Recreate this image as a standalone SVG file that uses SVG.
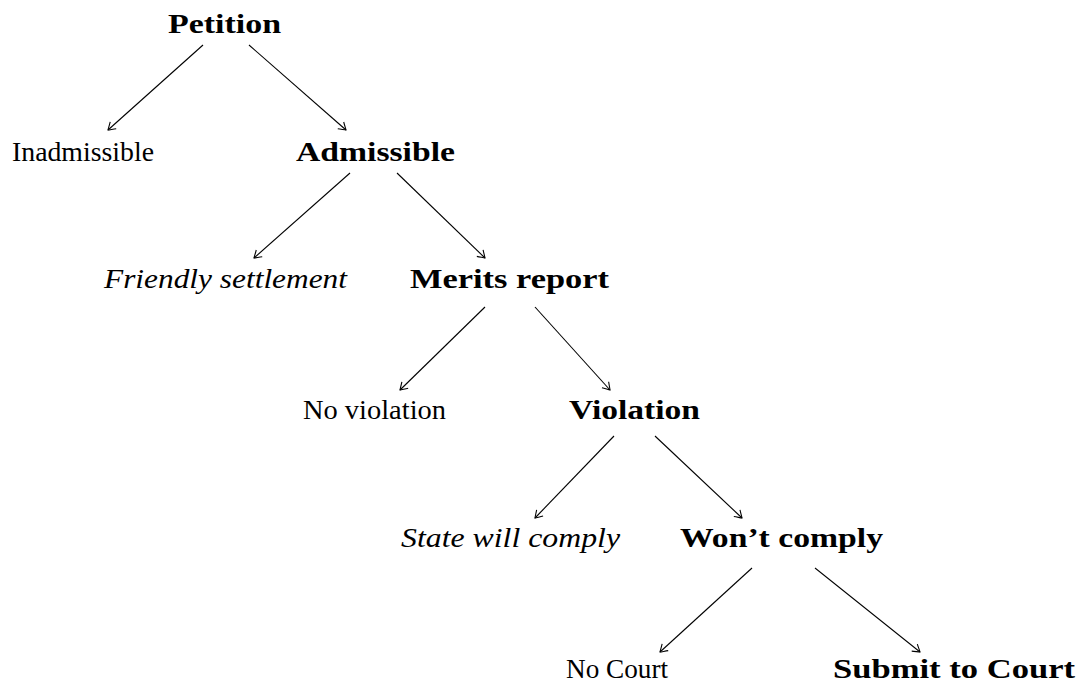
<svg xmlns="http://www.w3.org/2000/svg" width="1077" height="688" viewBox="0 0 1077 688">
<style>
text{font-family:"Liberation Serif","DejaVu Serif",serif;font-size:27px;fill:#000;text-anchor:middle}
.b{font-weight:bold}
.i{font-style:italic}
.e{fill:none;stroke:#000;stroke-width:1.1}
</style>
<defs>
<marker id="ar" viewBox="-10 -6 12 12" markerWidth="12" markerHeight="12" refX="0" refY="0" orient="auto" markerUnits="userSpaceOnUse">
<path d="M-7,-4.5 C-4,-2.5 -1,-0.8 0,0 C-1,0.8 -4,2.5 -7,4.5" fill="none" stroke="#000" stroke-width="1.1"/>
</marker>
</defs>
<g id="edges">
<line class="e" x1="203" y1="45" x2="108" y2="130" marker-end="url(#ar)"/>
<line class="e" x1="249" y1="45" x2="346" y2="130" marker-end="url(#ar)"/>
<line class="e" x1="350" y1="173" x2="254" y2="258" marker-end="url(#ar)"/>
<line class="e" x1="397" y1="173" x2="485" y2="258" marker-end="url(#ar)"/>
<line class="e" x1="485" y1="307" x2="400" y2="390" marker-end="url(#ar)"/>
<line class="e" x1="535" y1="307" x2="610" y2="390" marker-end="url(#ar)"/>
<line class="e" x1="614" y1="436" x2="535" y2="518" marker-end="url(#ar)"/>
<line class="e" x1="655" y1="436" x2="742" y2="518" marker-end="url(#ar)"/>
<line class="e" x1="752" y1="568" x2="660" y2="652" marker-end="url(#ar)"/>
<line class="e" x1="815" y1="568" x2="920" y2="652" marker-end="url(#ar)"/>
</g>
<g id="petition"><text class="b" x="224.5" y="33" textLength="113" lengthAdjust="spacingAndGlyphs">Petition</text></g>
<g id="inadmissible"><text x="83" y="161" textLength="142" lengthAdjust="spacingAndGlyphs">Inadmissible</text></g>
<g id="admissible"><text class="b" x="375.5" y="161" textLength="159" lengthAdjust="spacingAndGlyphs">Admissible</text></g>
<g id="friendly"><text class="i" x="225.5" y="288" textLength="243" lengthAdjust="spacingAndGlyphs">Friendly settlement</text></g>
<g id="merits"><text class="b" x="509.5" y="288" textLength="199" lengthAdjust="spacingAndGlyphs">Merits report</text></g>
<g id="noviolation"><text x="374.5" y="419" textLength="143" lengthAdjust="spacingAndGlyphs">No violation</text></g>
<g id="violation"><text class="b" x="634.5" y="419" textLength="131" lengthAdjust="spacingAndGlyphs">Violation</text></g>
<g id="statecomply"><text class="i" x="510.5" y="547" textLength="219" lengthAdjust="spacingAndGlyphs">State will comply</text></g>
<g id="wontcomply"><text class="b" x="781.5" y="547" textLength="203" lengthAdjust="spacingAndGlyphs">Won’t comply</text></g>
<g id="nocourt"><text x="617" y="678" textLength="102" lengthAdjust="spacingAndGlyphs">No Court</text></g>
<g id="submit"><text class="b" x="954" y="678" textLength="242" lengthAdjust="spacingAndGlyphs">Submit to Court</text></g>
</svg>
